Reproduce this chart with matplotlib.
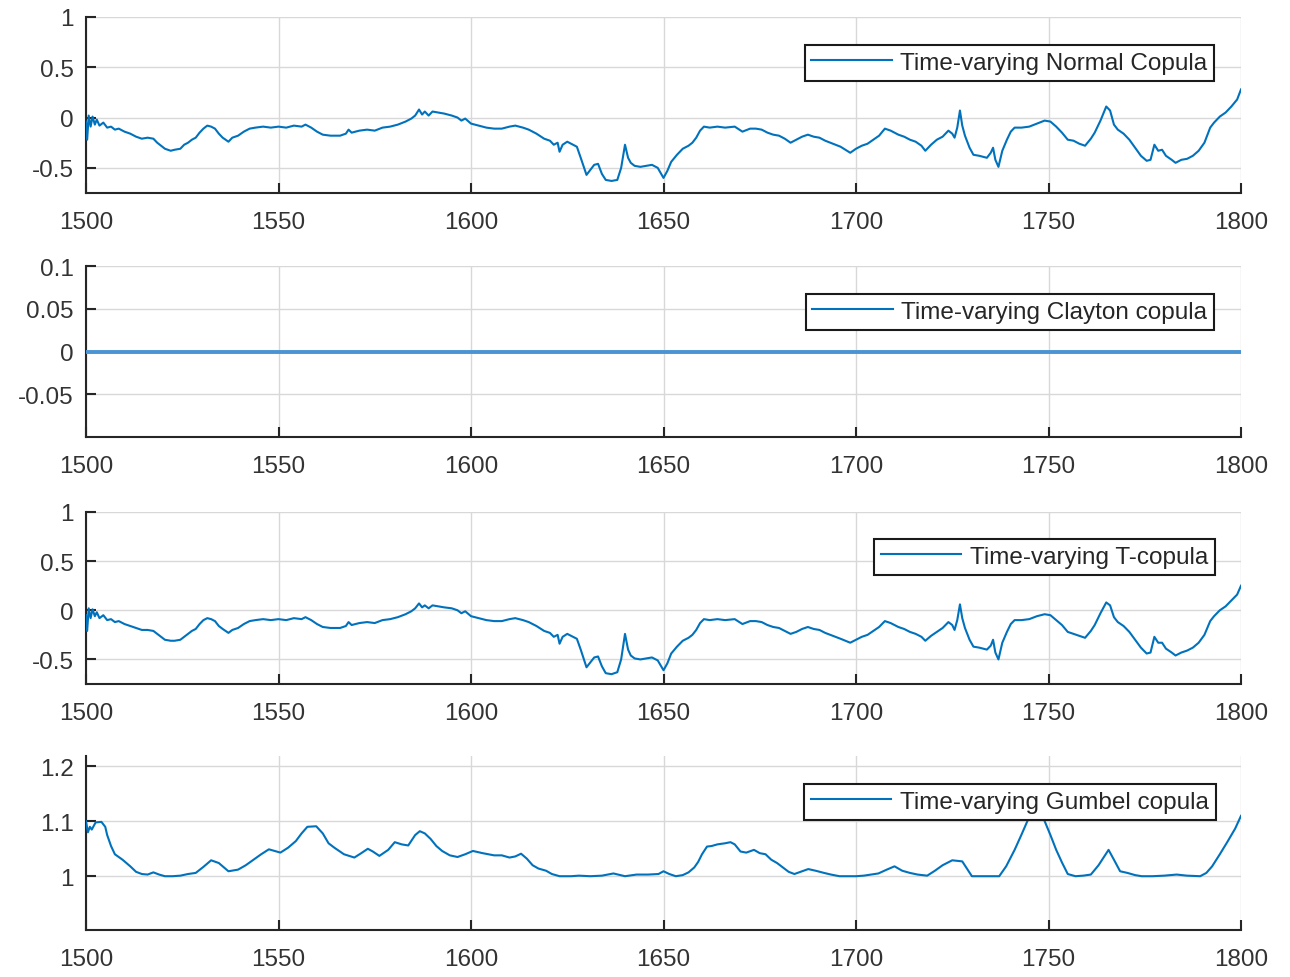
import matplotlib
matplotlib.use("Agg")
import matplotlib.pyplot as plt

# time-varying normal copula
normal_years = [1500, 1500.3, 1500.7, 1501.2, 1501.7, 1502.3, 1502.8, 1503.5, 1504.5, 1505.5,
                1506.5, 1507.5, 1508.5, 1510, 1511.5, 1513, 1514.5, 1516, 1517.5, 1518.5,
                1519.5, 1520.5, 1522, 1523, 1524.5, 1525.5, 1526.5, 1527.5, 1528.5, 1529.5,
                1530.5, 1531.5, 1532.5, 1533.5, 1534.5, 1535.5, 1537, 1538, 1539.5, 1541,
                1542.5, 1544, 1546, 1548, 1550, 1552, 1554, 1556, 1557, 1558.5,
                1560, 1561.5, 1563.5, 1566, 1567.5, 1568.2, 1569, 1571, 1573, 1575,
                1577, 1579, 1581, 1583, 1584.5, 1585.5, 1586.5, 1587.3, 1588, 1589,
                1590, 1591.5, 1593, 1595, 1596.5, 1597.5, 1598.5, 1600, 1602, 1604,
                1606, 1608, 1610, 1611.5, 1613.5, 1615, 1617, 1619, 1620.5, 1621.5,
                1622.5, 1623, 1623.8, 1625, 1626.5, 1627.5, 1628.5, 1630, 1631, 1632,
                1633, 1634, 1635, 1636.5, 1638, 1639, 1640, 1640.8, 1641.5, 1642.5,
                1644, 1645.5, 1647, 1648.5, 1650, 1651, 1652, 1653.5, 1655, 1656.5,
                1657.5, 1658.5, 1659.5, 1660.5, 1662, 1664, 1666, 1668.5, 1670.5, 1672.5,
                1674, 1675.5, 1677, 1678.5, 1680, 1681.5, 1683, 1684.5, 1686, 1687.5,
                1689, 1690.5, 1692, 1694, 1696, 1698.5, 1700, 1701.5, 1703, 1704.5,
                1706, 1707.5, 1709, 1711, 1712.5, 1714, 1715.5, 1717, 1718, 1719.5,
                1721, 1722.5, 1724, 1725, 1725.6, 1726.3, 1727, 1727.6, 1728.3, 1729.5,
                1730.5, 1732, 1734, 1735, 1735.6, 1736.2, 1737, 1738, 1739.2, 1740.2,
                1741.2, 1743, 1745, 1747, 1749, 1750.5, 1752, 1753.5, 1755, 1756.5,
                1758, 1759.5, 1761, 1762, 1763.5, 1765, 1766, 1767, 1768, 1769.5,
                1771, 1772.5, 1774, 1775.5, 1776.5, 1777.5, 1778.5, 1779.5, 1780.5, 1782,
                1783, 1784.5, 1786, 1787.5, 1789, 1790.5, 1792, 1793, 1794.5, 1796,
                1797.5, 1799, 1800]
normal_vals = [-0.04, -0.22, 0.02, -0.09, 0.01, -0.07, -0.02, -0.08, -0.05, -0.10,
               -0.09, -0.12, -0.11, -0.14, -0.16, -0.19, -0.21, -0.20, -0.21, -0.25,
               -0.28, -0.31, -0.33, -0.32, -0.31, -0.27, -0.25, -0.22, -0.20, -0.15,
               -0.11, -0.08, -0.09, -0.11, -0.16, -0.20, -0.24, -0.20, -0.18, -0.14,
               -0.11, -0.10, -0.09, -0.10, -0.09, -0.10, -0.08, -0.09, -0.07, -0.10,
               -0.14, -0.17, -0.18, -0.18, -0.16, -0.12, -0.15, -0.13, -0.12, -0.13,
               -0.10, -0.09, -0.07, -0.04, -0.01, 0.02, 0.08, 0.03, 0.06, 0.02,
               0.06, 0.05, 0.04, 0.02, 0.00, -0.03, -0.01, -0.06, -0.08, -0.10,
               -0.11, -0.11, -0.09, -0.08, -0.10, -0.12, -0.16, -0.21, -0.23, -0.27,
               -0.25, -0.34, -0.27, -0.24, -0.27, -0.29, -0.40, -0.57, -0.52, -0.47,
               -0.46, -0.56, -0.62, -0.63, -0.62, -0.50, -0.27, -0.40, -0.45, -0.48,
               -0.49, -0.48, -0.47, -0.50, -0.60, -0.53, -0.44, -0.37, -0.31, -0.28,
               -0.25, -0.20, -0.13, -0.09, -0.10, -0.09, -0.10, -0.09, -0.14, -0.11,
               -0.11, -0.12, -0.15, -0.17, -0.18, -0.21, -0.25, -0.22, -0.19, -0.17,
               -0.19, -0.20, -0.23, -0.26, -0.29, -0.35, -0.31, -0.28, -0.26, -0.22,
               -0.18, -0.11, -0.13, -0.17, -0.19, -0.22, -0.24, -0.28, -0.33, -0.27,
               -0.22, -0.19, -0.13, -0.16, -0.20, -0.10, 0.07, -0.08, -0.18, -0.30,
               -0.37, -0.38, -0.40, -0.35, -0.30, -0.42, -0.49, -0.33, -0.22, -0.14,
               -0.10, -0.10, -0.09, -0.06, -0.03, -0.04, -0.09, -0.15, -0.22, -0.23,
               -0.26, -0.28, -0.21, -0.15, -0.03, 0.11, 0.07, -0.07, -0.12, -0.16,
               -0.22, -0.30, -0.38, -0.43, -0.42, -0.27, -0.33, -0.32, -0.38, -0.42,
               -0.45, -0.42, -0.41, -0.38, -0.33, -0.25, -0.10, -0.05, 0.01, 0.05,
               0.11, 0.18, 0.28]

# time-varying Clayton copula: flat at zero
clayton_years = [1500, 1800]
clayton_vals = [0.0, 0.0]

# time-varying T copula (third panel, sampled on the same years)
tcop_years = normal_years
tcop_vals = [-0.05, -0.21, 0.02, -0.08, 0.01, -0.06, -0.02, -0.08, -0.05, -0.10,
             -0.09, -0.12, -0.11, -0.14, -0.16, -0.18, -0.20, -0.20, -0.21, -0.24,
             -0.27, -0.30, -0.31, -0.31, -0.30, -0.27, -0.24, -0.21, -0.19, -0.14,
             -0.10, -0.08, -0.09, -0.11, -0.16, -0.19, -0.23, -0.20, -0.18, -0.14,
             -0.11, -0.10, -0.09, -0.10, -0.09, -0.10, -0.08, -0.09, -0.07, -0.10,
             -0.14, -0.17, -0.18, -0.18, -0.16, -0.12, -0.15, -0.13, -0.12, -0.13,
             -0.10, -0.09, -0.07, -0.04, -0.01, 0.02, 0.07, 0.03, 0.05, 0.02,
             0.05, 0.04, 0.03, 0.02, 0.00, -0.03, -0.01, -0.06, -0.08, -0.10,
             -0.11, -0.11, -0.09, -0.08, -0.10, -0.12, -0.16, -0.21, -0.23, -0.27,
             -0.25, -0.34, -0.27, -0.24, -0.27, -0.29, -0.40, -0.58, -0.53, -0.48,
             -0.47, -0.57, -0.64, -0.65, -0.63, -0.50, -0.24, -0.40, -0.46, -0.49,
             -0.50, -0.49, -0.48, -0.51, -0.61, -0.54, -0.44, -0.37, -0.31, -0.28,
             -0.25, -0.20, -0.13, -0.09, -0.10, -0.09, -0.10, -0.09, -0.14, -0.11,
             -0.11, -0.12, -0.15, -0.17, -0.18, -0.21, -0.24, -0.22, -0.19, -0.17,
             -0.19, -0.20, -0.23, -0.26, -0.29, -0.33, -0.30, -0.27, -0.25, -0.21,
             -0.17, -0.11, -0.13, -0.17, -0.19, -0.22, -0.24, -0.27, -0.31, -0.26,
             -0.22, -0.18, -0.12, -0.15, -0.20, -0.10, 0.06, -0.08, -0.18, -0.30,
             -0.37, -0.38, -0.40, -0.36, -0.30, -0.43, -0.50, -0.33, -0.22, -0.14,
             -0.10, -0.10, -0.09, -0.06, -0.04, -0.05, -0.10, -0.15, -0.22, -0.24,
             -0.26, -0.28, -0.21, -0.15, -0.03, 0.08, 0.05, -0.07, -0.12, -0.16,
             -0.22, -0.30, -0.38, -0.44, -0.43, -0.27, -0.33, -0.33, -0.39, -0.43,
             -0.46, -0.43, -0.41, -0.38, -0.33, -0.25, -0.11, -0.06, 0.00, 0.04,
             0.10, 0.16, 0.25]

# time-varying Gumbel copula (bottom panel)
gumbel_years = [1500, 1500.5, 1501, 1501.5, 1502.5, 1504, 1505, 1505.5, 1506.5, 1507.5,
                1509.5, 1511.5, 1513, 1514.5, 1516, 1517.5, 1519, 1520.5, 1522.5, 1524.5,
                1526.5, 1528.5, 1530.5, 1532.5, 1534.5, 1537, 1539.5, 1541.5, 1543.5, 1545.5,
                1547.5, 1550.5, 1552.5, 1554.5, 1556, 1557.5, 1559.8, 1561.5, 1563, 1564.5,
                1567, 1569.7, 1571.5, 1573.2, 1574.5, 1576.2, 1578.5, 1580.2, 1582, 1583.7,
                1585.5, 1586.7, 1588, 1589.5, 1591, 1592.5, 1594.5, 1596.5, 1598.5, 1600.5,
                1603, 1606, 1608, 1610, 1611.5, 1613, 1614.5, 1616, 1617.5, 1619.5,
                1621, 1623, 1626, 1628, 1631, 1634, 1637, 1640, 1643, 1646,
                1648.7, 1650, 1651.5, 1653.2, 1655, 1656.5, 1658, 1659, 1660, 1661.3,
                1662.5, 1664, 1666, 1667.4, 1668.5, 1670, 1671.5, 1673.5, 1675, 1676.5,
                1678, 1679.5, 1681, 1682.5, 1684, 1686, 1687.6, 1689.5, 1691.7, 1693.5,
                1695.7, 1698, 1700, 1702, 1704, 1705.8, 1708, 1710, 1712, 1714,
                1716, 1718.5, 1720.5, 1722.5, 1725, 1727.6, 1729, 1730.1, 1733, 1737.2,
                1739, 1741.2, 1743, 1744.8, 1746.5, 1748, 1748.9, 1750.5, 1752, 1753.5,
                1755, 1757, 1759, 1761, 1763, 1765.6, 1767, 1768.6, 1770.5, 1772.5,
                1774.2, 1777, 1780, 1783.3, 1786, 1789.4, 1791, 1792.5, 1794.5, 1796.5,
                1798.5, 1800]
gumbel_vals = [1.100, 1.080, 1.090, 1.085, 1.098, 1.099, 1.090, 1.075, 1.055, 1.040,
               1.030, 1.018, 1.008, 1.004, 1.003, 1.007, 1.003, 1.000, 1.000, 1.001,
               1.004, 1.006, 1.017, 1.029, 1.024, 1.009, 1.012, 1.020, 1.030, 1.040,
               1.049, 1.043, 1.052, 1.064, 1.078, 1.090, 1.091, 1.078, 1.060, 1.052,
               1.040, 1.034, 1.042, 1.050, 1.045, 1.037, 1.048, 1.062, 1.058, 1.056,
               1.075, 1.082, 1.078, 1.068, 1.055, 1.046, 1.038, 1.035, 1.040, 1.046,
               1.042, 1.038, 1.038, 1.034, 1.036, 1.041, 1.032, 1.020, 1.014, 1.010,
               1.004, 1.000, 1.000, 1.001, 1.000, 1.001, 1.005, 1.000, 1.003, 1.003,
               1.004, 1.009, 1.004, 1.000, 1.002, 1.007, 1.016, 1.026, 1.040, 1.054,
               1.055, 1.058, 1.060, 1.062, 1.058, 1.045, 1.043, 1.048, 1.042, 1.040,
               1.030, 1.024, 1.016, 1.008, 1.004, 1.009, 1.013, 1.010, 1.006, 1.003,
               1.000, 1.000, 1.000, 1.001, 1.003, 1.005, 1.012, 1.018, 1.010, 1.006,
               1.003, 1.001, 1.010, 1.020, 1.029, 1.027, 1.012, 1.000, 1.000, 1.000,
               1.018, 1.048, 1.076, 1.105, 1.130, 1.125, 1.102, 1.075, 1.048, 1.025,
               1.004, 1.000, 1.001, 1.003, 1.020, 1.048, 1.030, 1.009, 1.006, 1.002,
               1.000, 1.000, 1.001, 1.003, 1.001, 1.000, 1.006, 1.018, 1.040, 1.063,
               1.087, 1.110]

labels = ["Time-varying Normal Copula", "Time-varying Clayton copula",
          "Time-varying T-copula", "Time-varying Gumbel copula"]

plt.rcParams['font.family'] = ['Liberation Sans', 'DejaVu Sans']
plt.rcParams['font.size'] = 17.5

fig = plt.figure(figsize=(12.9, 9.78), dpi=100)
left, width = 86 / 1290, 1155 / 1290
# (top, bottom) of each panel in pixels
rows = [(18, 194), (267, 438), (513, 685), (757, 931)]
legend_anchor = [(0.9766, 0.841), (0.9766, 0.836), (0.9775, 0.843), (0.978, 0.839)]

series = [(normal_years, normal_vals, 1.5),
          (clayton_years, clayton_vals, 2.8),
          (tcop_years, tcop_vals, 1.5),
          (gumbel_years, gumbel_vals, 1.5)]
ylims = [(-0.75, 1), (-0.1, 0.1), (-0.75, 1), (0.902, 1.219)]
yticks = [[-0.5, 0, 0.5, 1], [-0.05, 0, 0.05, 0.1], [-0.5, 0, 0.5, 1], [1, 1.1, 1.2]]
yticklabels = [["-0.5", "0", "0.5", "1"], ["-0.05", "0", "0.05", "0.1"],
               ["-0.5", "0", "0.5", "1"], ["1", "1.1", "1.2"]]

for i, (top, bot) in enumerate(rows):
    ax = fig.add_axes([left, 1 - bot / 978, width, (bot - top) / 978])
    xs, ys, lw = series[i]
    col = '#0072BD' if i != 1 else '#4a94d4'
    ax.plot(xs, ys, color=col, lw=lw, label=labels[i], zorder=3)
    ax.set_xlim(1500, 1800)
    ax.set_ylim(*ylims[i])
    ax.set_xticks([1500, 1550, 1600, 1650, 1700, 1750, 1800])
    ax.set_yticks(yticks[i])
    ax.set_yticklabels(yticklabels[i])
    ax.grid(True, color='#d8d8d8', lw=1.0, zorder=0)
    for s in ['top', 'right']:
        ax.spines[s].set_visible(False)
    for s in ['left', 'bottom']:
        ax.spines[s].set_color('#262626')
        ax.spines[s].set_linewidth(1.5)
    ax.tick_params(direction='in', length=7, width=1.5, color='#262626',
                   labelcolor='#333333', labelsize=17.5)
    ax.tick_params(axis='x', pad=13)
    ax.tick_params(axis='y', pad=9)
    leg = ax.legend(loc='upper right', bbox_to_anchor=legend_anchor[i],
                    borderaxespad=0, fancybox=False, framealpha=1,
                    handlelength=3.3, handletextpad=0.35, borderpad=0.28,
                    fontsize=17.5)
    leg.get_frame().set_edgecolor('#1a1a1a')
    leg.get_frame().set_linewidth(1.5)
    leg.get_lines()[0].set_linewidth(1.5)
    leg.get_lines()[0].set_color('#0072BD')
    for t in leg.get_texts():
        t.set_color('#262626')

fig.savefig("out.png", dpi=100)
